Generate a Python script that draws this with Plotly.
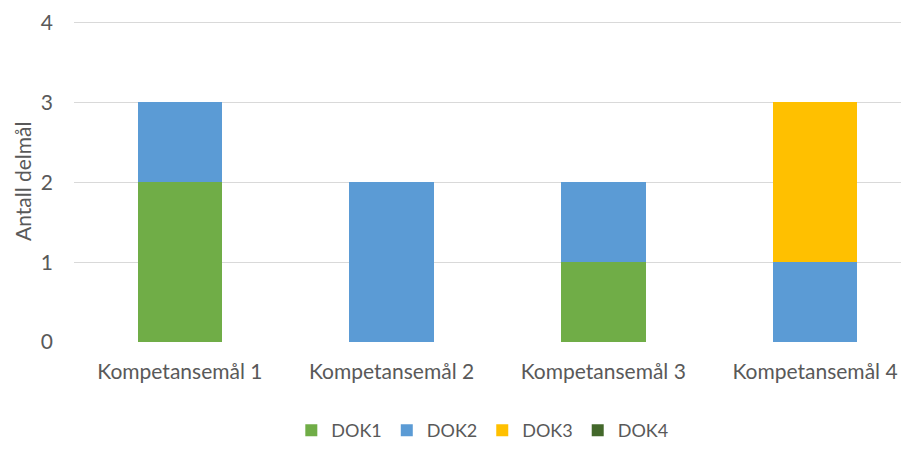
import plotly.graph_objects as go

categories = ["Kompetansemål 1", "Kompetansemål 2", "Kompetansemål 3", "Kompetansemål 4"]
dok1 = [2, 0, 1, 0]
dok2 = [1, 2, 1, 1]
dok3 = [0, 0, 0, 2]
dok4 = [0, 0, 0, 0]

series = [
    ("DOK1", dok1, "#70AD47"),
    ("DOK2", dok2, "#5B9BD5"),
    ("DOK3", dok3, "#FFC000"),
    ("DOK4", dok4, "#43682B"),
]

font_family = "Lato, Carlito, Calibri, sans-serif"
text_color = "#595959"

# page body has an 8px margin, so the figure is sized to fit inside it
W, H = 901, 441
M_L, M_T, M_B = 66, 13, 107

fig = go.Figure()
for name, values, color in series:
    fig.add_trace(go.Bar(
        x=list(range(len(categories))),
        y=values,
        name=name,
        width=0.4,
        marker=dict(color=color, line=dict(width=0)),
    ))

# y-axis title placed by hand so the plot area stays fixed
fig.add_annotation(
    text="Antall delmål",
    xref="paper", yref="paper",
    x=-M_L / (W - M_L), xanchor="left", xshift=0,
    y=0.5, yanchor="middle",
    textangle=-90,
    showarrow=False,
    font=dict(size=21, color=text_color),
)

fig.update_layout(
    barmode="stack",
    width=W,
    height=H,
    margin=dict(l=M_L, r=0, t=M_T, b=M_B, autoexpand=False),
    plot_bgcolor="white",
    paper_bgcolor="white",
    font=dict(family=font_family, color=text_color, size=20),
    legend=dict(
        orientation="h",
        x=0.489, xanchor="center",
        yref="container",
        y=0.0, yanchor="bottom",
        font=dict(size=18, color=text_color),
        itemwidth=30,
        traceorder="normal",
    ),
    xaxis=dict(
        range=[-0.5, 3.444],
        tickmode="array",
        tickvals=list(range(len(categories))),
        ticktext=categories,
        showgrid=False,
        showline=False,
        zeroline=False,
        ticks="",
        automargin=False,
        ticklabelstandoff=15,
        tickfont=dict(size=21, color=text_color),
    ),
    yaxis=dict(
        range=[0, 4.02],
        tickvals=[0, 1, 2, 3, 4],
        showgrid=True,
        gridcolor="#D9D9D9",
        gridwidth=1.3,
        zeroline=False,
        showline=False,
        ticks="",
        automargin=False,
        ticklabelstandoff=20,
        tickfont=dict(size=21, color=text_color),
    ),
)

fig.write_html("out.html")
